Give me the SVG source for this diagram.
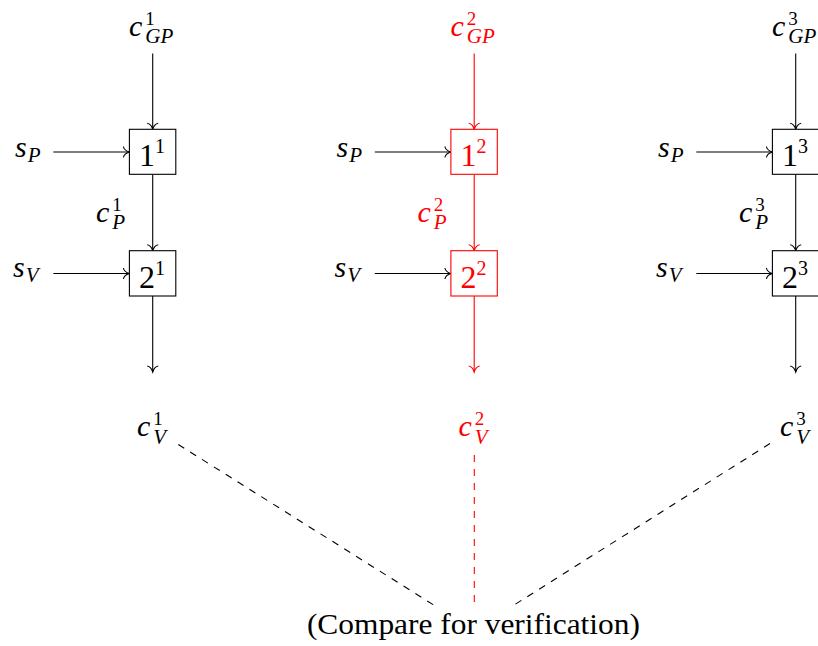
<svg xmlns="http://www.w3.org/2000/svg" width="818" height="646" viewBox="0 0 818 646">
<defs>
<style>
.bg{fill:#fff}
.ln{stroke:#000;stroke-width:1.1;fill:none}
.ln.r{stroke:#ff0000}
.box{fill:#fff;stroke:#000;stroke-width:1.1}
.box.r{stroke:#ff0000}
.dash{stroke-dasharray:7 7}
text{font-family:"Liberation Serif","DejaVu Serif",serif;fill:#000}
.m{font-style:italic;font-size:30px}
.sb{font-size:21px}
.sp{font-size:19px;font-style:normal}
.dg{font-size:32px}
.ds{font-size:20px}
.rt{fill:#ff0000}
</style>
<marker id="ak" markerUnits="userSpaceOnUse" markerWidth="14" markerHeight="14" viewBox="-8 -7 10 14" refX="0" refY="0" orient="auto" overflow="visible">
<path d="M-6,-5.5 C-5.5,-2.5 -2,-0.6 0,0 C-2,0.6 -5.5,2.5 -6,5.5" fill="none" stroke="#000" stroke-width="1.1"/>
</marker>
<marker id="ar" markerUnits="userSpaceOnUse" markerWidth="14" markerHeight="14" viewBox="-8 -7 10 14" refX="0" refY="0" orient="auto" overflow="visible">
<path d="M-6,-5.5 C-5.5,-2.5 -2,-0.6 0,0 C-2,0.6 -5.5,2.5 -6,5.5" fill="none" stroke="#ff0000" stroke-width="1.1"/>
</marker>
</defs>
<rect class="bg" x="0" y="0" width="818" height="646"/>

<g id="connectors">
<!-- column 1 -->
<line class="ln" x1="152.7" y1="53.5" x2="152.7" y2="129.3" marker-end="url(#ak)"/>
<line class="ln" x1="53.3" y1="152" x2="129.4" y2="152" marker-end="url(#ak)"/>
<line class="ln" x1="152.7" y1="174.5" x2="152.7" y2="250.7" marker-end="url(#ak)"/>
<line class="ln" x1="53.3" y1="273.5" x2="129.4" y2="273.5" marker-end="url(#ak)"/>
<line class="ln" x1="152.7" y1="296" x2="152.7" y2="372" marker-end="url(#ak)"/>
<!-- column 2 -->
<line class="ln r" x1="474.2" y1="53.5" x2="474.2" y2="129.3" marker-end="url(#ar)"/>
<line class="ln" x1="374.8" y1="152" x2="450.9" y2="152" marker-end="url(#ak)"/>
<line class="ln r" x1="474.2" y1="174.5" x2="474.2" y2="250.7" marker-end="url(#ar)"/>
<line class="ln" x1="374.8" y1="273.5" x2="450.9" y2="273.5" marker-end="url(#ak)"/>
<line class="ln r" x1="474.2" y1="296" x2="474.2" y2="372" marker-end="url(#ar)"/>
<!-- column 3 -->
<line class="ln" x1="795.7" y1="53.5" x2="795.7" y2="129.3" marker-end="url(#ak)"/>
<line class="ln" x1="696.3" y1="152" x2="772.4" y2="152" marker-end="url(#ak)"/>
<line class="ln" x1="795.7" y1="174.5" x2="795.7" y2="250.7" marker-end="url(#ak)"/>
<line class="ln" x1="696.3" y1="273.5" x2="772.4" y2="273.5" marker-end="url(#ak)"/>
<line class="ln" x1="795.7" y1="296" x2="795.7" y2="372" marker-end="url(#ak)"/>
<!-- dashed comparison lines -->
<line class="ln dash" x1="178.3" y1="444.5" x2="434.5" y2="605.5"/>
<line class="ln r dash" x1="474.3" y1="455" x2="474.3" y2="605.5"/>
<line class="ln dash" x1="770" y1="443.5" x2="513.3" y2="605.5"/>
</g>

<!-- column 1 nodes -->
<g id="cGP1"><text class="m" x="129" y="36">c<tspan class="sp" dx="3" dy="-11">1</tspan><tspan class="sb" dx="-9.5" dy="18">GP</tspan></text></g>
<g id="sP1"><text class="m" x="15" y="157">s<tspan class="sb" dx="1" dy="5">P</tspan></text></g>
<g id="box1_1"><rect class="box" x="129.4" y="129.3" width="46.4" height="45"/><text x="152" y="166" text-anchor="middle"><tspan class="dg">1</tspan><tspan class="ds" dy="-13">1</tspan></text></g>
<g id="cP1"><text class="m" x="96" y="222">c<tspan class="sp" dx="3" dy="-11">1</tspan><tspan class="sb" dx="-9.5" dy="18">P</tspan></text></g>
<g id="sV1"><text class="m" x="13" y="277">s<tspan class="sb" dx="1" dy="5">V</tspan></text></g>
<g id="box2_1"><rect class="box" x="129.4" y="250.7" width="46.4" height="45.3"/><text x="152" y="287.5" text-anchor="middle"><tspan class="dg">2</tspan><tspan class="ds" dy="-13">1</tspan></text></g>
<g id="cV1"><text class="m" x="137" y="436">c<tspan class="sp" dx="3" dy="-11">1</tspan><tspan class="sb" dx="-9.5" dy="19">V</tspan></text></g>

<!-- column 2 nodes (highlighted) -->
<g id="cGP2"><text class="m rt" x="450.5" y="36">c<tspan class="sp rt" dx="3" dy="-11">2</tspan><tspan class="sb rt" dx="-9.5" dy="18">GP</tspan></text></g>
<g id="sP2"><text class="m" x="336.5" y="157">s<tspan class="sb" dx="1" dy="5">P</tspan></text></g>
<g id="box1_2"><rect class="box r" x="450.9" y="129.3" width="46.4" height="45"/><text class="rt" x="473.5" y="166" text-anchor="middle"><tspan class="dg">1</tspan><tspan class="ds" dy="-13">2</tspan></text></g>
<g id="cP2"><text class="m rt" x="417.5" y="222">c<tspan class="sp rt" dx="3" dy="-11">2</tspan><tspan class="sb rt" dx="-9.5" dy="18">P</tspan></text></g>
<g id="sV2"><text class="m" x="334.5" y="277">s<tspan class="sb" dx="1" dy="5">V</tspan></text></g>
<g id="box2_2"><rect class="box r" x="450.9" y="250.7" width="46.4" height="45.3"/><text class="rt" x="473.5" y="287.5" text-anchor="middle"><tspan class="dg">2</tspan><tspan class="ds" dy="-13">2</tspan></text></g>
<g id="cV2"><text class="m rt" x="458.5" y="436">c<tspan class="sp rt" dx="3" dy="-11">2</tspan><tspan class="sb rt" dx="-9.5" dy="19">V</tspan></text></g>

<!-- column 3 nodes -->
<g id="cGP3"><text class="m" x="772" y="36">c<tspan class="sp" dx="3" dy="-11">3</tspan><tspan class="sb" dx="-9.5" dy="18">GP</tspan></text></g>
<g id="sP3"><text class="m" x="658" y="157">s<tspan class="sb" dx="1" dy="5">P</tspan></text></g>
<g id="box1_3"><rect class="box" x="772.4" y="129.3" width="46.4" height="45"/><text x="795" y="166" text-anchor="middle"><tspan class="dg">1</tspan><tspan class="ds" dy="-13">3</tspan></text></g>
<g id="cP3"><text class="m" x="739" y="222">c<tspan class="sp" dx="3" dy="-11">3</tspan><tspan class="sb" dx="-9.5" dy="18">P</tspan></text></g>
<g id="sV3"><text class="m" x="656" y="277">s<tspan class="sb" dx="1" dy="5">V</tspan></text></g>
<g id="box2_3"><rect class="box" x="772.4" y="250.7" width="46.4" height="45.3"/><text x="795" y="287.5" text-anchor="middle"><tspan class="dg">2</tspan><tspan class="ds" dy="-13">3</tspan></text></g>
<g id="cV3"><text class="m" x="780" y="436">c<tspan class="sp" dx="3" dy="-11">3</tspan><tspan class="sb" dx="-9.5" dy="19">V</tspan></text></g>

<g id="caption"><text x="473.4" y="634" font-size="29" text-anchor="middle" textLength="333" lengthAdjust="spacingAndGlyphs">(Compare for verification)</text></g>
</svg>
